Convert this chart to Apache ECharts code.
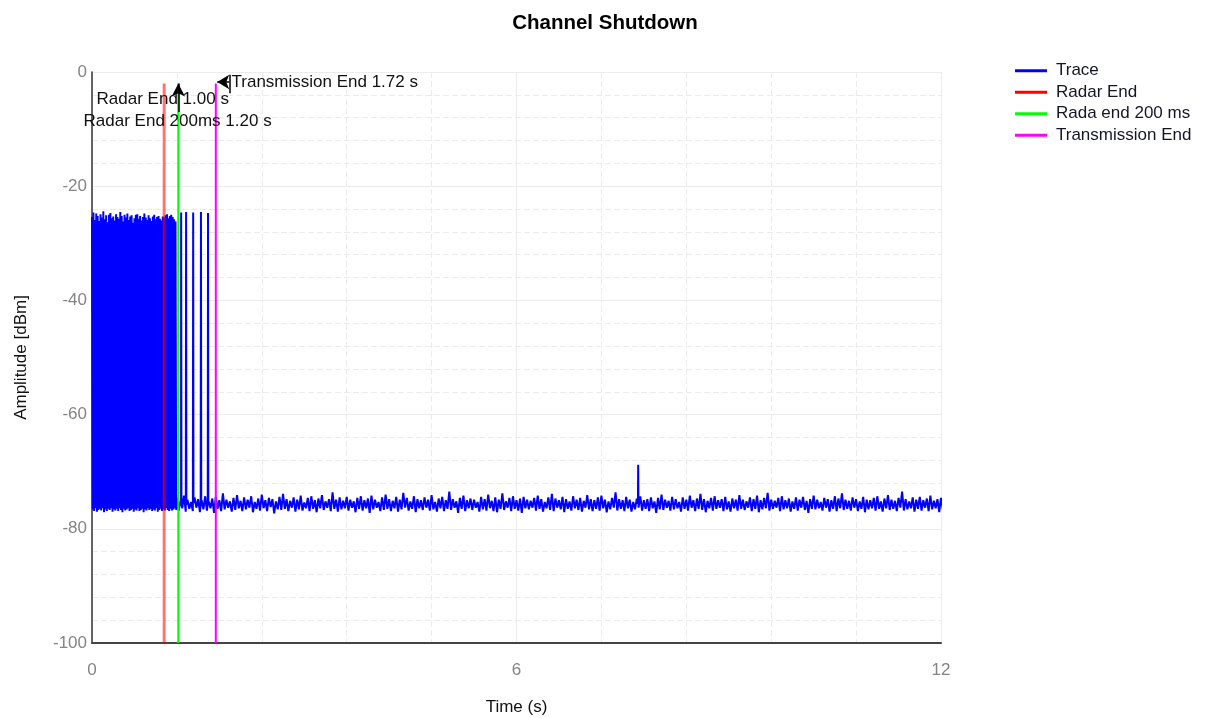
<!DOCTYPE html>
<html>
<head>
<meta charset="utf-8">
<style>html,body{margin:0;padding:0;background:#fff;}#chart{width:1210px;height:718px;}</style>
<script src="https://cdn.jsdelivr.net/npm/echarts@6/dist/echarts.min.js"></script>
</head>
<body>
<div id="chart"></div>
<script>
// ---- data ----
const titleText = 'Channel Shutdown';
const xTicks = [0, 6, 12];
const yTicks = [0, -20, -40, -60, -80, -100];

// Dense radar burst (0 .. 1.19 s), sampled every 0.01 s, alternating peak / floor
const burstStart = 0.0;
const burstStep = 0.01;
const burstValues = [
  -25.4,-76.6,-24.6,-76.9,-25.9,-76.4,-24.8,-77.0,-25.2,-76.7,-26.1,-76.5,-24.9,-76.8,-25.5,-76.4,-24.4,-77.1,-25.8,-76.6,
  -25.1,-76.9,-26.3,-76.5,-25.0,-76.7,-24.7,-76.4,-25.6,-77.0,-25.3,-76.6,-26.0,-76.8,-24.9,-76.5,-25.4,-76.9,-25.7,-76.4,
  -24.5,-76.7,-25.2,-77.1,-26.2,-76.5,-25.0,-76.8,-25.5,-76.6,-24.8,-76.4,-25.9,-76.9,-25.3,-76.7,-25.1,-76.5,-26.4,-77.0,
  -25.6,-76.6,-25.0,-76.8,-24.9,-76.4,-25.7,-76.9,-25.2,-76.7,-26.0,-76.5,-25.4,-77.1,-24.8,-76.6,-25.5,-76.8,-25.9,-76.4,
  -25.1,-76.7,-25.6,-76.5,-26.1,-76.9,-25.3,-76.6,-25.0,-76.8,-25.8,-76.4,-25.4,-77.0,-25.2,-76.7,-25.7,-76.5,-26.0,-76.9,
  -25.3,-76.6,-25.5,-76.8,-25.1,-76.4,-24.9,-76.7,-25.6,-76.9,-25.2,-76.5,-25.0,-76.8,-25.4,-76.6,-25.8,-76.4,-26.2,-76.7
];

// Noise floor after the burst (from 1.20 s), sampled every 0.025 s
const floorStart = 1.20;
const floorStep = 0.025;
const floorValues = [
  -74.6,-76.8,-75.1,-76.4,-74.2,-77.0,-74.9,-76.5,-75.3,-76.9,-74.5,-76.3,-74.8,-77.1,-75.0,-76.6,-74.3,-76.8,-75.2,-76.4,
  -74.7,-77.2,-74.4,-76.5,-75.0,-76.9,-73.8,-76.6,-74.9,-76.3,-75.2,-77.0,-74.6,-76.7,-74.1,-76.4,-75.1,-76.9,-74.5,-76.6,
  -74.9,-76.3,-74.3,-77.1,-75.3,-76.5,-74.7,-76.8,-74.0,-76.4,-75.0,-76.9,-74.6,-76.2,-74.8,-77.3,-75.2,-76.6,-74.4,-76.7,
  -73.9,-76.5,-74.8,-76.9,-75.1,-76.3,-74.5,-77.0,-74.9,-76.6,-74.2,-76.8,-75.4,-76.4,-74.6,-76.9,-74.3,-76.5,-75.0,-77.1,
  -74.7,-76.4,-74.1,-76.7,-75.2,-76.3,-74.8,-76.9,-73.6,-76.5,-74.9,-77.0,-74.5,-76.6,-75.1,-76.4,-74.4,-76.8,-74.9,-76.3,
  -75.2,-77.1,-74.6,-76.5,-74.3,-76.8,-75.0,-76.4,-74.7,-77.2,-74.2,-76.6,-74.9,-76.3,-75.3,-76.9,-74.5,-76.7,-74.0,-76.5,
  -74.8,-76.9,-75.1,-76.4,-74.4,-77.0,-74.9,-76.6,-73.7,-76.3,-74.6,-76.8,-75.2,-76.5,-74.3,-77.1,-74.8,-76.4,-75.0,-76.7,
  -74.5,-76.3,-74.9,-76.8,-74.1,-76.6,-75.3,-77.0,-74.7,-76.4,-74.4,-76.9,-75.0,-76.5,-73.5,-76.7,-74.8,-76.3,-75.2,-77.2,
  -74.6,-76.5,-74.2,-76.9,-75.0,-76.4,-74.7,-76.7,-74.9,-76.3,-75.3,-77.0,-74.4,-76.6,-74.8,-76.8,-74.0,-76.4,-75.1,-76.9,
  -74.5,-77.1,-74.9,-76.5,-73.8,-76.7,-75.2,-76.3,-74.6,-76.9,-74.3,-76.5,-75.0,-76.8,-74.7,-77.2,-74.4,-76.4,-74.9,-76.6,
  -75.1,-76.3,-74.6,-76.8,-74.2,-76.5,-74.8,-77.0,-75.3,-76.4,-74.5,-76.7,-73.9,-76.9,-74.7,-76.3,-75.0,-76.6,-74.4,-77.1,
  -74.8,-76.5,-75.2,-76.8,-74.3,-76.4,-74.9,-76.7,-74.6,-77.0,-75.1,-76.3,-74.1,-76.6,-74.8,-76.9,-75.0,-76.5,-74.5,-76.8,
  -74.2,-76.4,-74.9,-77.1,-75.2,-76.6,-74.6,-76.3,-73.6,-76.8,-74.8,-76.5,-75.0,-76.9,-74.4,-76.4,-74.9,-77.0,-75.3,-76.6,
  -74.7,-76.3,-74.3,-76.8,-75.0,-76.5,-74.8,-76.9,-74.5,-76.4,-75.2,-77.2,-74.6,-76.6,-74.0,-76.7,-74.9,-76.3,-75.1,-76.8,
  -74.4,-76.6,-74.8,-76.4,-75.3,-77.0,-74.5,-76.5,-74.9,-76.8,-74.2,-76.3,-75.0,-76.9,-74.7,-76.5,-73.9,-76.7,-74.8,-77.1,
  -75.1,-76.4,-74.6,-76.8,-74.3,-76.5,-75.0,-76.3,-74.8,-76.9,-74.4,-76.6,-75.2,-77.0,-74.7,-76.4,-74.9,-76.8,-74.1,-76.5,
  -74.9,-76.7,-75.2,-76.3,-74.5,-76.9,-74.8,-76.5,-74.2,-77.1,-75.0,-76.6,-74.6,-76.4,-73.7,-76.8,-74.9,-76.5,-75.1,-76.3,
  -74.6,-76.9,-74.3,-76.6,-75.0,-76.4,-74.7,-77.0,-75.2,-76.5,-74.5,-76.8,-74.9,-76.3,-74.4,-76.7,-75.1,-77.2,-74.8,-76.5,
  -74.2,-76.6,-74.9,-76.4,-75.3,-76.8,-74.6,-76.3,-74.8,-77.0,-75.0,-76.5,-74.3,-76.9,-74.7,-76.4,-73.8,-76.7,-74.9,-76.5,
  -75.1,-76.8,-74.5,-76.3,-74.8,-76.9,-75.2,-76.5,-74.4,-77.1,-74.9,-76.6,-75.0,-76.4,-74.6,-76.8,-74.3,-76.5,-75.2,-77.0,
  -74.7,-76.4,-74.1,-76.7,-74.9,-76.5,-75.1,-76.9,-74.6,-76.3,-73.5,-76.8,-74.8,-76.6,-75.2,-76.4,-74.5,-77.0,-74.9,-76.5,
  -74.4,-76.8,-75.0,-76.3,-74.7,-76.9,-74.2,-76.6,-75.1,-76.4,-74.8,-77.1,-74.6,-76.5,-74.9,-76.8,-74.3,-76.4,-75.0,-76.7
];

// Isolated pulses after the burst (time s, peak dBm, floor level beside the pulse)
const pulseTimes = [1.26, 1.33, 1.43, 1.54, 1.64, 7.72];
const pulsePeaks = [-24.6, -24.5, -24.6, -24.5, -24.7, -68.8];
const pulseBase = [-75.6, -75.8, -75.5, -75.7, -75.6, -75.6];

// Marker lines (time s) and their top (dBm)
const markerNames = ['Radar End', 'Rada end 200 ms', 'Transmission End'];
const markerTimes = [1.02, 1.22, 1.75];
const markerTop = -2;
const markerBottom = -100;

// Annotation texts
const annotationTexts = ['Radar End 1.00 s', 'Radar End 200ms 1.20 s', 'Transmission End 1.72 s'];

// ---- build series data ----
const trace = [];
burstValues.forEach((v, i) => trace.push([+(burstStart + i * burstStep).toFixed(4), v]));
const floorPts = floorValues.map((v, i) => [+(floorStart + i * floorStep).toFixed(4), v]);
pulseTimes.forEach((t, i) => {
  floorPts.push([t - 0.004, pulseBase[i]]);
  floorPts.push([t, pulsePeaks[i]]);
  floorPts.push([t + 0.004, pulseBase[i]]);
});
floorPts.sort((a, b) => a[0] - b[0]);
floorPts.forEach(p => trace.push(p));

const FONT = 'Liberation Sans, Arial, sans-serif';
const chart = echarts.init(document.getElementById('chart'), null, { renderer: 'canvas' });

const markerColors = ['rgba(255,0,0,0.55)', '#00ff00', '#ff00ff'];
const markerWidths = [3, 2, 2];
const legendColors = ['#0000ff', '#ff0000', '#00ff00', '#ff00ff'];

const markerSeries = markerNames.map((name, i) => ({
  name: name,
  type: 'line',
  data: [[markerTimes[i], markerTop], [markerTimes[i], markerBottom]],
  showSymbol: false,
  symbol: 'none',
  lineStyle: { color: markerColors[i], width: markerWidths[i] },
  itemStyle: { color: legendColors[i + 1] },
  silent: true,
  animation: false,
  z: 3
}));

// annotations attached to the "Rada end 200 ms" series
markerSeries[1].clip = false;
markerSeries[1].markLine = {
  silent: true,
  animation: false,
  symbol: ['none', 'none'],
  label: { show: false },
  lineStyle: { color: '#000', width: 1.5, type: 'solid' },
  emphasis: { disabled: true },
  data: [
    [{ coord: [-0.1, -7.0] }, { coord: [2.55, -7.0] }],
    [{ coord: [markerTimes[1], -7.0], symbol: 'none' }, { coord: [markerTimes[1], -2.0], symbol: 'arrow', symbolSize: [10, 13] }],
    [{ coord: [1.94, -1.75], symbol: 'none' }, { coord: [1.77, -1.75], symbol: 'arrow', symbolSize: [11, 12] }],
    [{ coord: [1.94, -0.5] }, { coord: [1.94, -3.7] }]
  ]
};
markerSeries[1].markPoint = {
  silent: true,
  animation: false,
  symbol: 'circle',
  symbolSize: 1,
  itemStyle: { color: 'rgba(0,0,0,0)' },
  label: { show: true, color: '#111', fontSize: 17, fontFamily: FONT },
  data: [
    { coord: [1.00, -4.8], label: { formatter: annotationTexts[0], position: 'inside', align: 'center', verticalAlign: 'middle' } },
    { coord: [1.21, -8.6], label: { formatter: annotationTexts[1], position: 'inside', align: 'center', verticalAlign: 'middle' } },
    { coord: [1.965, -1.75], label: { formatter: annotationTexts[2], position: 'right', distance: 0, align: 'left', verticalAlign: 'middle' } }
  ]
};

const option = {
  animation: false,
  backgroundColor: '#fff',
  textStyle: { fontFamily: FONT },
  title: {
    text: titleText, left: 'center', top: 8,
    textStyle: { fontSize: 20.5, fontWeight: 'bold', color: '#000', fontFamily: FONT }
  },
  legend: {
    orient: 'vertical', left: 1015, top: 60, padding: 0,
    icon: 'rect', itemWidth: 32, itemHeight: 3, itemGap: 0,
    textStyle: { fontSize: 17, lineHeight: 21.5, color: '#15152a', fontFamily: FONT, padding: [0, 0, 0, 4] },
    data: ['Trace'].concat(markerNames).map((n, i) => ({ name: n, itemStyle: { color: legendColors[i], opacity: 1 } })),
    selectedMode: false
  },
  grid: { left: 92, right: 269, top: 72, bottom: 75, containLabel: false, outerBoundsMode: 'none' },
  xAxis: {
    type: 'value', min: xTicks[0], max: xTicks[xTicks.length - 1], interval: xTicks[1] - xTicks[0],
    name: 'Time (s)', nameLocation: 'middle', nameGap: 56,
    nameTextStyle: { fontSize: 17, color: '#111', fontFamily: FONT },
    axisLine: { show: true, onZero: false, lineStyle: { color: '#444', width: 2 } },
    axisTick: { show: false },
    axisLabel: { color: '#858585', fontSize: 17, margin: 19, fontFamily: FONT },
    splitLine: { show: true, lineStyle: { color: '#ececec', width: 1 } },
    minorTick: { show: false, splitNumber: 5 },
    minorSplitLine: { show: true, lineStyle: { color: '#ececec', width: 1, type: [6, 3] } }
  },
  yAxis: {
    type: 'value', min: yTicks[yTicks.length - 1], max: yTicks[0], interval: 20,
    name: 'Amplitude [dBm]', nameLocation: 'middle', nameGap: 62,
    nameTextStyle: { fontSize: 17, color: '#111', fontFamily: FONT },
    axisLine: { show: true, lineStyle: { color: '#333', width: 1.5 } },
    axisTick: { show: false },
    axisLabel: { color: '#858585', fontSize: 17, margin: 5, fontFamily: FONT },
    splitLine: { show: true, lineStyle: { color: '#ececec', width: 1 } },
    minorTick: { show: false, splitNumber: 5 },
    minorSplitLine: { show: true, lineStyle: { color: '#ececec', width: 1, type: [6, 3] } }
  },
  series: [{
    name: 'Trace',
    type: 'line',
    data: trace,
    showSymbol: false,
    symbol: 'none',
    sampling: null,
    lineStyle: { color: '#0000ff', width: 2, join: 'bevel' },
    itemStyle: { color: '#0000ff' },
    silent: true,
    animation: false,
    z: 2
  }].concat(markerSeries)
};
chart.setOption(option);
</script>
</body>
</html>
